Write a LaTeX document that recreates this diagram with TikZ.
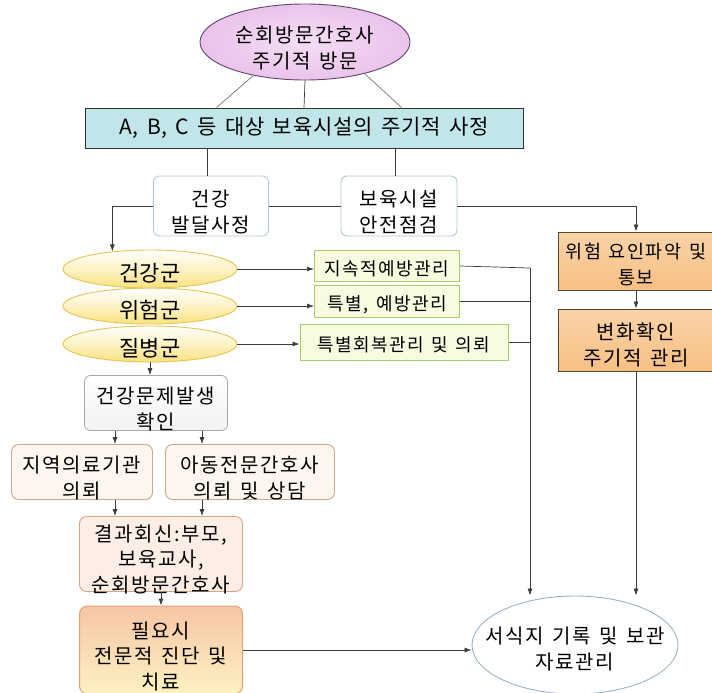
\documentclass[tikz,border=0pt]{standalone}
\usepackage{fontspec}
\newfontfamily\kr[LetterSpace=8,WordSpace=1.4]{Noto Sans CJK KR}
\newfontfamily\krc[LetterSpace=4,WordSpace=1.5]{Noto Sans CJK KR}
\newfontfamily\krn[WordSpace=1.4]{Noto Sans CJK KR}
\usetikzlibrary{shapes.geometric,arrows.meta,calc}
\definecolor{lnc}{HTML}{3C3C3C}
\begin{document}
\begin{tikzpicture}[x=1pt,y=-1pt,
  every node/.style={font=\kr\fontsize{20}{25.5}\selectfont, align=center, inner sep=0pt, text=black},
  low/.style={text height=#1, text depth=0pt, inner ysep=-20pt},
  low/.default=52pt,
  cyanfont/.style={font=\krc\fontsize{21}{26}\selectfont},
  big/.style={font=\krn\fontsize{22}{26}\selectfont, text height=24pt, text depth=0pt},
  small/.style={font=\kr\fontsize{18.5}{26}\selectfont},
  gfont/.style={font=\kr\fontsize{18}{24}\selectfont},
  ln/.style={draw=lnc, line width=0.7pt},
  arr/.style={ln, -{Latex[length=7pt,width=5pt]}},
  topell/.style={ellipse, draw=topbord, line width=0.9pt, inner color=pinkfill!55, outer color=pinkfill},
  cyanbox/.style={rectangle, draw=black!80, line width=1pt, fill=cyanfill},
  wbox/.style={rectangle, rounded corners=6pt, draw=wbord, line width=0.9pt, fill=white},
  ybell/.style={ellipse, draw=ybord, line width=0.9pt, top color=white, bottom color=yfill, middle color=yfill!45},
  gbox/.style={rectangle, draw=gbord, line width=1pt, fill=gfill},
  obox/.style={rectangle, draw=obord, line width=1pt, top color=ofill!70, bottom color=ofill},
  kbox/.style={rectangle, rounded corners=6pt, draw=kbord, line width=0.8pt, top color=white, bottom color=black!5},
  pbox/.style={rectangle, rounded corners=7pt, draw=pbord, line width=0.9pt, fill=pfill},
  rbox/.style={rectangle, rounded corners=7pt, draw=rbord, line width=0.9pt, fill=rfill},
  sbox/.style={rectangle, rounded corners=8pt, draw=sbord, line width=1pt, top color=sfill, bottom color=sfill!60!yellow!40},
  sgell/.style={ellipse, draw=sgbord, line width=0.9pt, fill=white, inner xsep=-25pt}
]
\definecolor{topbord}{HTML}{5E4470}
\definecolor{pinkfill}{HTML}{EBC3EB}
\definecolor{cyanfill}{HTML}{C0E6EA}
\definecolor{wbord}{HTML}{B4C8D4}
\definecolor{ybord}{HTML}{E4C452}
\definecolor{yfill}{HTML}{F9E27E}
\definecolor{gbord}{HTML}{A5CF6A}
\definecolor{gfill}{HTML}{F8FBE0}
\definecolor{obord}{HTML}{5A4630}
\definecolor{ofill}{HTML}{F7C083}
\definecolor{kbord}{HTML}{A8A8A8}
\definecolor{pbord}{HTML}{C8AA8E}
\definecolor{pfill}{HTML}{FDF6EE}
\definecolor{rbord}{HTML}{D3A888}
\definecolor{rfill}{HTML}{FCEEE5}
\definecolor{sbord}{HTML}{E2A272}
\definecolor{sfill}{HTML}{F7C5A5}
\definecolor{sgbord}{HTML}{9CB2C6}
\useasboundingbox (0,0) rectangle (712,693);

\node[topell, low, minimum width=210pt, minimum height=76pt] (top) at (305,42) {순회방문간호사\\주기적 방문};
\node[cyanbox, cyanfont, minimum width=438pt, minimum height=40pt] (cb) at (304,128) {A, B, C 등 대상 보육시설의 주기적 사정};
\node[wbox, low, minimum width=115pt, minimum height=60pt] (kg) at (211,206) {건강\\발달사정};
\node[wbox, low, minimum width=116pt, minimum height=60pt] (bs) at (399,206) {보육시설\\안전점검};
\node[obox, small, low=47pt, minimum width=156pt, minimum height=58pt] (wy) at (636,261) {위험 요인파악 및\\통보};
\node[obox, low=50pt, minimum width=156pt, minimum height=62pt] (bh) at (636,340) {변화확인\\주기적 관리};

\node[ybell, big, minimum width=174pt, minimum height=36pt] (g3) at (150,344) {질병군};
\node[ybell, big, minimum width=174pt, minimum height=36pt] (g2) at (150,306) {위험군};
\node[ybell, big, minimum width=174pt, minimum height=38pt] (g1) at (150,269) {건강군};

\node[gbox, gfont, low=19pt, minimum width=145pt, minimum height=31pt] (gb1) at (387,266) {지속적예방관리};
\node[gbox, gfont, low=19pt, minimum width=145pt, minimum height=32pt] (gb2) at (387,301) {특별, 예방관리};
\node[gbox, gfont, low=19pt, minimum width=208pt, minimum height=36pt] (gb3) at (404,342) {특별회복관리 및 의뢰};

\node[kbox, low, minimum width=143pt, minimum height=55pt] (kp) at (156,403) {건강문제발생\\확인};
\node[pbox, low, minimum width=141pt, minimum height=55pt] (jy) at (82,472) {지역의료기관\\의뢰};
\node[pbox, low, minimum width=169pt, minimum height=55pt] (ad) at (250,472) {아동전문간호사\\의뢰 및 상담};
\node[rbox, low=76pt, minimum width=163pt, minimum height=75pt] (gr) at (161,554) {결과회신:부모,\\보육교사,\\순회방문간호사};
\node[sbox, low=78pt, minimum width=163pt, minimum height=88pt] (pr) at (161,650) {필요시\\전문적 진단 및\\치료};
\node[sgell, low=48pt, minimum width=206pt, minimum height=98pt] (sg) at (575,645) {서식지 기록 및 보관\\자료관리};

% top ellipse to assessment box
\draw[ln, draw=black!55] (top.213) -- ([xshift=132pt]cb.north west);
\draw[ln] (top.south) -- (cb.north);
\draw[ln, draw=black!55] (top.332) -- ([xshift=317pt]cb.north west);
% assessment box to the two checks
\draw[ln] ([xshift=-4pt]kg.north |- cb.south) -- ([xshift=-4pt]kg.north);
\draw[ln] ([xshift=-4pt]bs.north |- cb.south) -- ([xshift=-4pt]bs.north);
\draw[ln] (kg.east) -- (bs.west);
\draw[arr] (kg.west) -| (g1.155);
\draw[arr] (bs.east) -| (wy.north);
\draw[arr] (wy.south) -- (bh.north);
\draw[arr] (bh.south) -- (bh.south |- sg.north);
% groups
\draw[arr] (g1.east) -- (g1.east -| gb1.west);
\draw[arr] (g2.east) -- (g2.east -| gb2.west);
\draw[arr] (g3.east) -- (g3.east -| gb3.west);
\coordinate (vr) at (530,268);
\draw[ln] (gb1.east) -- (vr);
\draw[ln] (gb2.east) -- (gb2.east -| vr);
\draw[ln] (gb3.east) -- (gb3.east -| vr);
\draw[arr] (vr) -- (vr |- sg.north);
% health problem chain
\draw[arr] (g3.south) -- (g3.south |- kp.north);
\coordinate (k1) at ([xshift=-41pt]kp.south);
\coordinate (k2) at ([xshift=46pt]kp.south);
\draw[arr] (k1) -- (k1 |- jy.north);
\draw[arr] (k2) -- (k2 |- ad.north);
\draw[arr] (k1 |- jy.south) -- (k1 |- gr.north);
\draw[arr] (k2 |- ad.south) -- (k2 |- gr.north);
\draw[arr] (gr.south) -- (pr.north);
\draw[arr] (pr.east) -- (pr.east -| sg.west);
\end{tikzpicture}
\end{document}
